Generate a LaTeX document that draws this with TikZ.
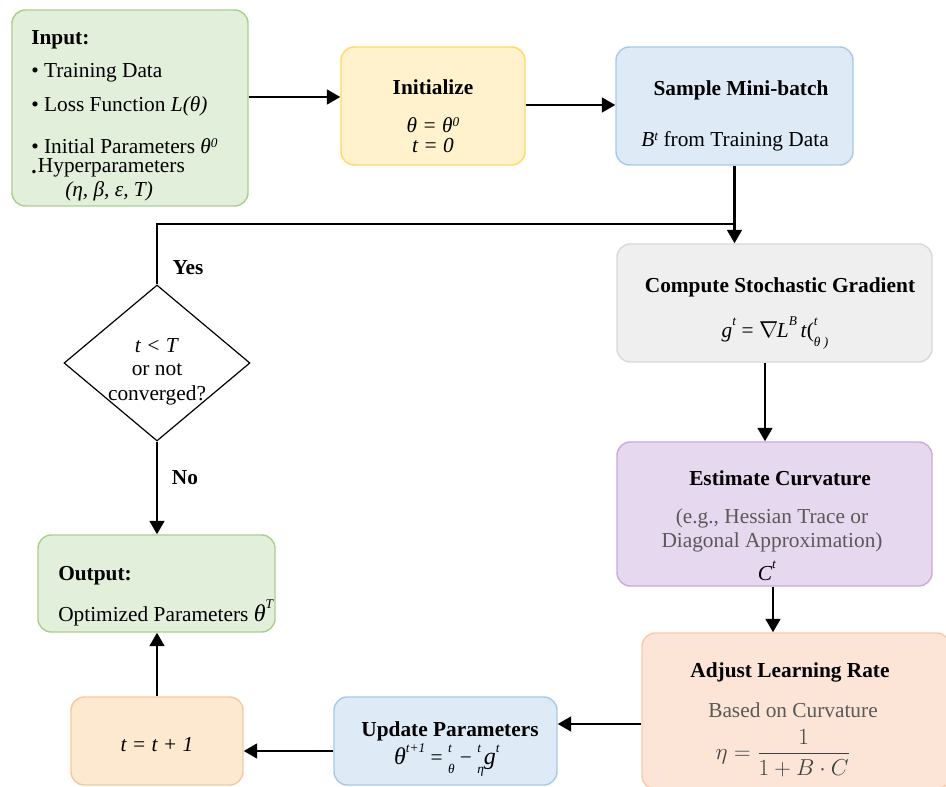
\documentclass[tikz,border=0pt]{standalone}
\usepackage{amsmath}
\usepackage{fontspec}
\setmainfont{Liberation Serif}
\usetikzlibrary{arrows.meta,shapes.geometric}
\definecolor{gfill}{HTML}{E2EFDA}\definecolor{gline}{HTML}{A9D18E}
\definecolor{yfill}{HTML}{FFF2CC}\definecolor{yline}{HTML}{FFD966}
\definecolor{bfill}{HTML}{DEEBF7}\definecolor{bline}{HTML}{A9C9E8}
\definecolor{kfill}{HTML}{EFEFEF}\definecolor{kline}{HTML}{D9D9D9}
\definecolor{pfill}{HTML}{E6D9EF}\definecolor{pline}{HTML}{CDA9DC}
\definecolor{ofill}{HTML}{FCE4D6}\definecolor{oline}{HTML}{F8CBAD}
\definecolor{tfill}{HTML}{FCE9CF}\definecolor{tline}{HTML}{F5C9A0}
\definecolor{graytext}{HTML}{595959}
\newcommand\sps[1]{\raisebox{0.55ex}{\fontsize{10}{10}\selectfont\textit{#1}}}
\newcommand\hsup[1]{\raisebox{1.25ex}{\fontsize{10}{10}\selectfont\textit{#1}}}
\newcommand\stk[2]{\makebox[0pt][l]{\raisebox{1.25ex}{\fontsize{10}{10}\selectfont\textit{#1}}}\raisebox{-0.9ex}{\fontsize{10}{10}\selectfont\textit{#2}}}
\begin{document}
\begin{tikzpicture}[x=0.75pt,y=-0.75pt,
  font=\fontsize{16}{18}\selectfont,
  boxs/.style={rectangle,rounded corners=10pt,line width=1.1pt,inner sep=0pt},
  txt/.style={inner sep=0pt,align=center},
  ltxt/.style={inner sep=0pt,anchor=west},
  ttl/.style={inner sep=0pt,font=\fontsize{16}{18}\selectfont\bfseries},
  arr/.style={line width=1.8pt,-{Triangle[length=10pt,width=11pt]}},
  conn/.style={line width=1.8pt}]
\useasboundingbox (0,0) rectangle (946,787);
\clip (0,0) rectangle (946,787);
\newcommand\bx[7]{\node[boxs,draw=#2,fill=#3,minimum width=#4*0.75pt,minimum height=#5*0.75pt] (#1) at (#6,#7) {};}
\bx{input}{gline}{gfill}{236}{196}{130}{108}
\bx{init}{yline}{yfill}{184}{118}{433}{106}
\bx{sample}{bline}{bfill}{237}{118}{734.5}{106}
\bx{compute}{kline}{kfill}{315}{118}{774.5}{303}
\bx{estimate}{pline}{pfill}{315}{144}{774.5}{514}
\bx{adjust}{oline}{ofill}{308}{156}{796}{711}
\bx{update}{bline}{bfill}{223}{88}{445.5}{741}
\bx{tinc}{tline}{tfill}{172}{88}{157}{741}
\bx{output}{gline}{gfill}{237}{97}{156.5}{583.5}
\node[diamond,draw,line width=0.9pt,minimum width=186*0.75pt,minimum height=156*0.75pt,inner sep=0pt] (dec) at (157,363) {};

% input text
\node[ltxt,font=\fontsize{16}{18}\selectfont\bfseries] (in1) at (31,40) {Input:};
\node[ltxt] (in2) at (31,73) {• Training Data};
\node[ltxt] (in3) at (31,106) {• Loss Function \textit{L(θ)}};
\node[ltxt] (in4) at (31,146) {• Initial Parameters \textit{θ}\sps{0}};
\node[ltxt] (in5) at (31,168) {\raisebox{-0.1ex}{\textbf{.}}\kern1pt Hyperparameters};
\node[ltxt] (in6) at (65,191) {\textit{(η, β, ε, T)}};

% initialize
\node[ttl] (it1) at (433,87) {Initialize};
\node[txt] (it2) at (433,125) {\textit{θ = θ}\sps{0}};
\node[txt] (it3) at (433,146) {\textit{t = 0}};

% sample
\node[ttl] (sm1) at (741,90) {Sample Mini-batch};
\node[txt] (sm2) at (735,141) {\textit{B}\sps{t} from Training Data};

% compute
\node[ttl] (cp1) at (780,287) {Compute Stochastic Gradient};
\node[txt] (cp2) at (775,333) {\textit{g}\hsup{t} = $\nabla$\kern-1pt\textit{L}\hsup{B}\,\textit{t}(\stk{t}{θ )}};

% estimate
\node[ttl] (es1) at (780,478) {Estimate Curvature};
\node[txt,text=graytext] (es2) at (772,518) {(e.g., Hessian Trace or};
\node[txt,text=graytext] (es3) at (772,542) {Diagonal Approximation)};
\node[txt] (es4) at (767,571) {\textit{C}\hsup{t}};

% adjust
\node[ttl] (ad1) at (790,672) {Adjust Learning Rate};
\node[txt,text=graytext] (ad2) at (793,710) {Based on Curvature};
\node[txt,text=black!75,font=\fontsize{18}{20}\selectfont] (ad3) at (783,753) {$\eta = \dfrac{1}{1 + B\cdot C}$};

% update
\node[ttl] (up1) at (450,731) {Update Parameters};
\node[txt] (up2) at (447,760) {{\fontsize{18}{18}\selectfont\textit{θ}}\hsup{t+1} = \stk{t}{θ} − \stk{t}{η}{\fontsize{18}{18}\selectfont\textit{g}}\hsup{t}};

% t = t + 1
\node[txt] (ti1) at (157,745) {\textit{t = t + 1}};

% output
\node[ltxt,font=\fontsize{16}{18}\selectfont\bfseries] (ou1) at (58,576) {Output:};
\node[ltxt] (ou2) at (58,613) {Optimized Parameters {\fontsize{18}{18}\selectfont\textit{θ}}\hsup{T}};

% decision
\node[txt] (dc1) at (157,346) {\textit{t < T}};
\node[txt] (dc2) at (157,370) {or not};
\node[txt] (dc3) at (157,395) {converged?};
\node[ttl] (yes) at (188,268) {Yes};
\node[ttl] (no) at (185,478) {No};

% connectors
\coordinate (j) at (734.5,224);
\draw[arr] (input.east |- 0,97) -- (init.west |- 0,97);
\draw[arr] (init.east |- 0,105) -- (sample.west |- 0,105);
\draw[arr] (sample.south) -- (sample.south |- compute.north);
\draw[conn] (dec.north) -- (dec.north |- j) -- (j);
\draw[arr] (compute.south -| 765,0) -- (estimate.north -| 765,0);
\draw[arr] (estimate.south -| 773,0) -- (adjust.north -| 773,0);
\draw[arr] (adjust.west |- 0,724) -- (update.east |- 0,724);
\draw[arr] (update.west |- 0,751) -- (tinc.east |- 0,751);
\draw[arr] (tinc.north) -- (tinc.north |- output.south);
\draw[arr] (dec.south) -- (dec.south |- output.north);
\end{tikzpicture}
\end{document}
